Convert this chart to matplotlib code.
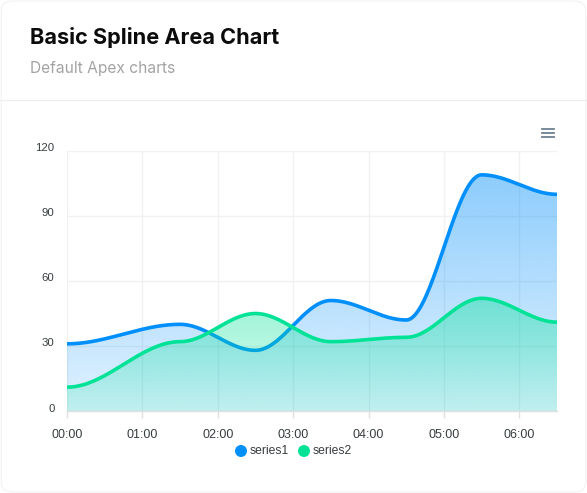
import numpy as np
import matplotlib
matplotlib.use("Agg")
import matplotlib.pyplot as plt
import matplotlib.transforms as mtransforms
from matplotlib.path import Path
from matplotlib.patches import PathPatch, FancyBboxPatch, Ellipse
from matplotlib.lines import Line2D

# Daten
times = ["00:00", "01:30", "02:30", "03:30", "04:30", "05:30", "06:30"]
series1 = [31, 40, 28, 51, 42, 109, 100]
series2 = [11, 32, 45, 32, 34, 52, 41]
names = ["series1", "series2"]
colors = ["#008FFB", "#00E396"]
tick_labels = ["00:00", "01:00", "02:00", "03:00", "04:00", "05:00", "06:00"]
y_ticks = [0, 30, 60, 90, 120]

W, H = 587, 493


def to_hours(t):
    h, m = t.split(":")
    return int(h) + int(m) / 60.0


# Apex-artige "smooth"-Kurve: kubische Bezier mit waagrechten Tangenten
def smooth(xs, ys, n=40):
    px, py = [xs[0]], [ys[0]]
    t = np.linspace(0, 1, n)[1:]
    for i in range(1, len(xs)):
        x0, y0, x1, y1 = xs[i - 1], ys[i - 1], xs[i], ys[i]
        d = (x1 - x0) * 0.35
        c1 = (x0 + d, y0)
        c2 = (x1 - d, y1)
        bx = (1 - t) ** 3 * x0 + 3 * (1 - t) ** 2 * t * c1[0] + 3 * (1 - t) * t ** 2 * c2[0] + t ** 3 * x1
        by = (1 - t) ** 3 * y0 + 3 * (1 - t) ** 2 * t * c1[1] + 3 * (1 - t) * t ** 2 * c2[1] + t ** 3 * y1
        px.extend(bx)
        py.extend(by)
    return np.array(px), np.array(py)


def gradient_fill(ax, cx, cy, color, a_top, a_bot, zorder):
    verts = list(zip(cx, cy)) + [(cx[-1], 0), (cx[0], 0), (cx[0], cy[0])]
    patch = PathPatch(Path(verts), facecolor="none", edgecolor="none")
    ax.add_patch(patch)
    top = cy.max()
    rgb = matplotlib.colors.to_rgb(color)
    grad = np.zeros((256, 1, 4))
    grad[:, 0, :3] = rgb
    grad[:, 0, 3] = np.linspace(a_top, a_bot, 256)
    im = ax.imshow(grad, extent=[cx[0], cx[-1], 0, top], aspect="auto",
                   origin="upper", zorder=zorder, interpolation="bilinear")
    im.set_clip_path(patch)


x = [to_hours(t) for t in times]

fig = plt.figure(figsize=(W / 100, H / 100), dpi=100)
fig.patch.set_facecolor("white")

# Karte
card = FancyBboxPatch((0.002, 0.002), 0.996, 0.996, boxstyle="round,pad=0,rounding_size=0.02",
                      transform=fig.transFigure, facecolor="white", edgecolor="#f2f2f2", lw=0.8,
                      zorder=-10)
fig.add_artist(card)
fig.add_artist(Line2D([0, 1], [1 - 100 / H, 1 - 100 / H], color="#eeeeee", lw=0.9,
                      transform=fig.transFigure))

fig.text(30 / W, 1 - 38 / H, "Basic Spline Area Chart", fontsize=15.6, fontweight="bold",
         family="Inter", color="#0b0b0b", va="center", ha="left")
fig.text(30 / W, 1 - 69 / H, "Default Apex charts", fontsize=11.2, family="Inter",
         color="#a3a3a3", va="center", ha="left")

# Menü-Symbol
for yy in [129, 133, 137]:
    fig.add_artist(Line2D([542 / W, 554 / W], [1 - yy / H, 1 - yy / H], color="#6e8192",
                          lw=1.3, transform=fig.transFigure))

ax = fig.add_axes([67 / W, 1 - 411 / H, 490 / W, 260 / H])
ax.set_xlim(0, 6.5)
ax.set_ylim(0, 120)
ax.patch.set_alpha(0)

for v in y_ticks[1:]:
    ax.axhline(v, color="#f1f1f1", lw=1, zorder=0)
for h in range(len(tick_labels)):
    ax.axvline(h, color="#f1f1f1", lw=1, zorder=0)

c1x, c1y = smooth(x, series1)
c2x, c2y = smooth(x, series2)

gradient_fill(ax, c1x, c1y, colors[0], 0.45, 0.12, 1)
ax.plot(c1x, c1y, color=colors[0], lw=2.6, zorder=2, solid_capstyle="round")
gradient_fill(ax, c2x, c2y, colors[1], 0.40, 0.14, 3)
ax.plot(c2x, c2y, color=colors[1], lw=2.6, zorder=4, solid_capstyle="round")

for s in ["top", "right", "left"]:
    ax.spines[s].set_visible(False)
ax.spines["bottom"].set_color("#e0e0e0")
ax.spines["bottom"].set_linewidth(1)

ax.set_xticks(range(len(tick_labels)))
ax.set_xticklabels(tick_labels, fontsize=9, color="#373d3f", family="Liberation Sans")
ax.tick_params(axis="x", length=5, width=1, color="#e0e0e0", pad=8)
ax.set_yticks(y_ticks)
ax.set_yticklabels([str(v) for v in y_ticks], fontsize=8.2, color="#373d3f", family="Liberation Sans")
ax.tick_params(axis="y", length=0, pad=9)
shift = mtransforms.ScaledTranslation(0, 2.5 / 100, fig.dpi_scale_trans)
for lab in ax.get_yticklabels():
    lab.set_va("center")
    lab.set_transform(lab.get_transform() + shift)

# Legende
leg_y = 1 - 451 / H
items = [(241, "series1"), (304, "series2")]
for (px, name), col in zip(items, colors):
    fig.add_artist(Ellipse((px / W, leg_y), 12 / W, 12 / H, transform=fig.transFigure,
                           facecolor=col, edgecolor="none"))
    fig.text((px + 8.5) / W, leg_y, name, fontsize=8.7, color="#373d3f", family="Liberation Sans",
             va="center", ha="left")

fig.savefig("out.png", dpi=100)
